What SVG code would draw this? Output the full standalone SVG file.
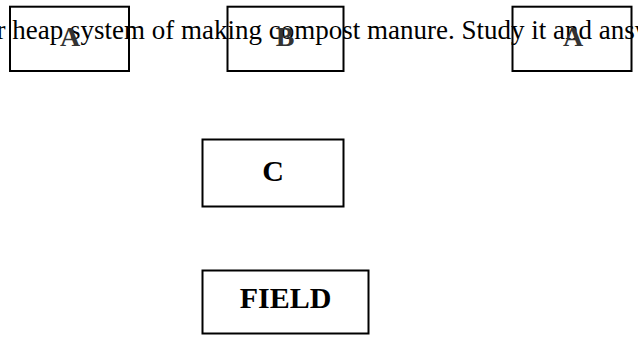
<svg xmlns="http://www.w3.org/2000/svg" width="638" height="343" viewBox="0 0 638 343">
<style>
.box{fill:none;stroke:#000;stroke-width:2}
.lbl{font-family:"Liberation Serif","Times New Roman",serif;font-weight:bold;text-anchor:middle}
.para{font-family:"Liberation Serif","Times New Roman",serif;font-size:27px;fill:#000}
</style>
<rect width="638" height="343" fill="#fff"/>
<text class="para" x="-3.5" y="39">r heap system of making compost manure. Study it and answ</text>
<g id="connectors"></g>
<g id="nodeA1">
<rect class="box" x="10" y="6.7" width="119" height="64.3"/>
<text class="lbl" x="70" y="46" font-size="28" fill="#333">A</text>
</g>
<g id="nodeB">
<rect class="box" x="227.5" y="6.7" width="116" height="64.3"/>
<text class="lbl" x="285" y="46" font-size="28" fill="#333">B</text>
</g>
<g id="nodeA2">
<rect class="box" x="512.5" y="6.7" width="119" height="64.3"/>
<text class="lbl" x="573" y="46" font-size="28" fill="#333">A</text>
</g>
<g id="nodeC">
<rect class="box" x="202.5" y="139.5" width="141" height="67"/>
<text class="lbl" x="273" y="181" font-size="30" fill="#000">C</text>
</g>
<g id="nodeField">
<rect class="box" x="202.5" y="270.5" width="166" height="63"/>
<text class="lbl" x="285.5" y="308" font-size="30" fill="#000">FIELD</text>
</g>
</svg>
